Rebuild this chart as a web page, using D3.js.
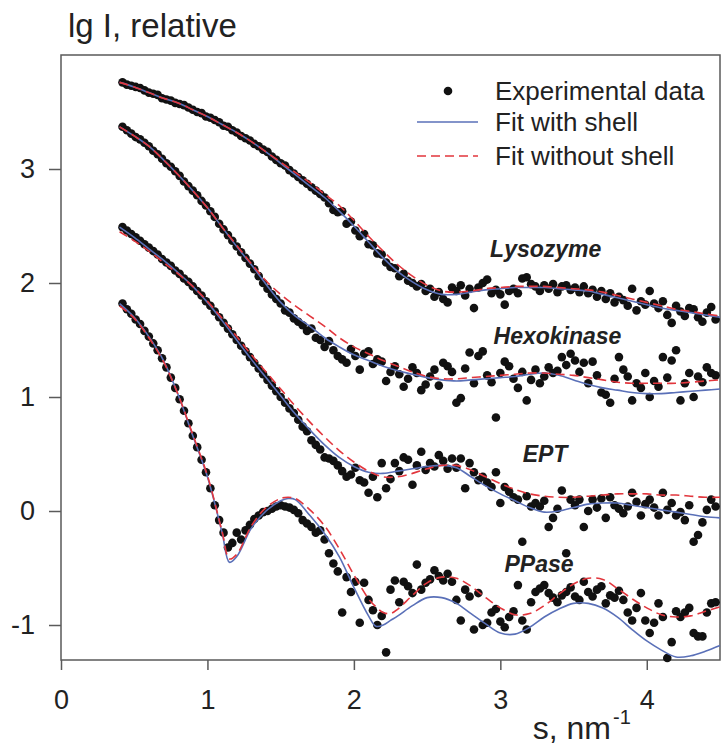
<!DOCTYPE html>
<html><head><meta charset="utf-8">
<script src="https://cdn.jsdelivr.net/npm/d3@7"></script>
<style>body{margin:0;background:#fff}svg{display:block}</style>
</head><body>
<svg id="chart" width="722" height="746"></svg>
<script>
// scattering vector s (nm^-1) of the experimental points
const sGrid = [
0.42,0.45,0.48,0.51,0.54,0.57,0.60,0.63,0.66,0.69,
0.72,0.75,0.78,0.81,0.84,0.87,0.90,0.93,0.96,0.99,
1.02,1.05,1.08,1.11,1.14,1.17,1.20,1.23,1.26,1.29,
1.32,1.35,1.38,1.41,1.44,1.47,1.50,1.53,1.56,1.59,
1.62,1.65,1.68,1.71,1.74,1.77,1.80,1.83,1.86,1.89,
1.92,1.95,1.98,2.01,2.04,2.07,2.10,2.13,2.16,2.19,
2.22,2.25,2.28,2.31,2.34,2.37,2.40,2.43,2.46,2.49,
2.52,2.55,2.58,2.61,2.64,2.67,2.70,2.73,2.76,2.79,
2.82,2.85,2.88,2.91,2.94,2.97,3.00,3.03,3.06,3.09,
3.12,3.15,3.18,3.21,3.24,3.27,3.30,3.33,3.36,3.39,
3.42,3.45,3.48,3.51,3.54,3.57,3.60,3.63,3.66,3.69,
3.72,3.75,3.78,3.81,3.84,3.87,3.90,3.93,3.96,3.99,
4.02,4.05,4.08,4.11,4.14,4.17,4.20,4.23,4.26,4.29,
4.32,4.35,4.38,4.41,4.44,4.47];

const lysozymeData = [
3.76,3.74,3.73,3.72,3.71,3.69,3.67,3.66,3.65,3.62,
3.61,3.60,3.58,3.57,3.56,3.54,3.52,3.50,3.49,3.46,
3.45,3.43,3.41,3.38,3.37,3.34,3.32,3.29,3.27,3.25,
3.22,3.20,3.17,3.15,3.11,3.08,3.05,3.03,2.99,2.96,
2.93,2.90,2.87,2.84,2.81,2.78,2.75,2.70,2.64,2.62,
2.63,2.52,2.54,2.46,2.41,2.43,2.34,2.33,2.26,2.25,
2.18,2.14,2.13,2.06,2.08,2.02,2.00,1.97,1.99,1.93,
1.95,1.88,1.92,1.86,1.83,1.96,1.93,1.98,1.89,1.95,
1.78,1.96,2.00,2.03,1.91,1.94,1.90,1.81,1.93,1.95,
1.91,2.04,2.05,1.99,1.97,1.93,1.98,1.95,1.99,1.92,
1.97,1.98,1.94,1.96,1.92,1.97,1.91,1.94,1.88,1.93,
1.86,1.91,1.83,1.88,1.85,1.80,1.95,1.76,1.84,1.81,
1.93,1.82,1.78,1.84,1.72,1.65,1.80,1.75,1.71,1.78,
1.77,1.70,1.66,1.74,1.79,1.68];

const hexokinaseData = [
3.37,3.34,3.31,3.28,3.26,3.23,3.20,3.16,3.13,3.09,
3.05,3.02,2.98,2.94,2.89,2.85,2.81,2.77,2.72,2.68,
2.63,2.58,2.52,2.47,2.42,2.37,2.32,2.27,2.22,2.17,
2.12,2.06,2.00,1.95,1.90,1.86,1.82,1.76,1.74,1.69,
1.66,1.63,1.58,1.60,1.52,1.50,1.44,1.49,1.41,1.36,
1.33,1.30,1.42,1.36,1.24,1.38,1.40,1.29,1.33,1.31,
1.14,1.22,1.27,1.20,1.09,1.16,1.26,1.21,1.06,1.11,
1.18,1.24,1.10,1.30,1.27,1.22,0.95,0.99,1.25,1.39,
1.12,1.36,1.40,1.19,1.13,0.82,1.21,1.31,1.27,1.16,
1.08,1.22,0.97,1.15,1.24,1.12,1.18,1.26,1.21,1.23,
1.35,1.28,1.38,1.32,1.22,1.30,1.12,1.31,1.19,1.04,
1.02,0.95,1.16,1.35,1.24,1.18,0.97,1.12,1.08,1.21,
1.00,1.14,1.09,1.35,1.17,1.32,1.41,0.97,1.12,1.21,
1.00,1.18,1.13,1.26,1.21,1.19];

const eptData = [
2.49,2.46,2.43,2.40,2.37,2.34,2.31,2.28,2.25,2.21,
2.18,2.15,2.11,2.08,2.04,2.01,1.97,1.93,1.89,1.84,
1.80,1.75,1.70,1.65,1.60,1.55,1.50,1.45,1.40,1.35,
1.30,1.25,1.20,1.15,1.10,1.05,1.00,0.95,0.90,0.86,
0.80,0.74,0.70,0.62,0.58,0.54,0.47,0.46,0.44,0.40,
0.35,0.30,0.32,0.38,0.27,0.25,0.16,0.30,0.12,0.42,
0.20,0.28,0.42,0.35,0.47,0.45,0.23,0.40,0.52,0.36,
0.42,0.39,0.49,0.44,0.37,0.46,0.38,0.46,0.20,0.42,
0.34,0.27,0.30,0.25,0.21,0.34,0.07,0.21,0.17,0.12,
0.10,-0.27,0.13,0.04,0.07,0.04,0.09,-0.14,-0.06,0.02,
0.18,-0.37,0.10,0.05,0.10,-0.14,0.00,0.10,0.03,0.11,
-0.06,0.12,0.05,0.02,-0.02,0.04,0.16,0.08,-0.04,0.06,
0.10,0.03,-0.04,0.16,0.01,0.07,-0.04,-0.01,-0.08,0.05,
-0.27,-0.21,-0.10,0.01,0.10,0.04];

const ppaseData = [
1.82,1.77,1.73,1.68,1.64,1.58,1.53,1.47,1.41,1.34,
1.26,1.17,1.08,0.98,0.88,0.77,0.66,0.56,0.45,0.34,
0.20,0.05,-0.08,-0.19,-0.32,-0.28,-0.19,-0.25,-0.17,-0.12,
-0.07,-0.04,-0.01,0.00,0.02,0.04,0.05,0.04,0.03,0.01,
-0.02,-0.08,-0.11,-0.14,-0.19,-0.17,-0.25,-0.37,-0.46,-0.53,
-0.89,-0.58,-0.71,-0.62,-0.98,-0.63,-0.78,-0.87,-1.00,-0.92,
-1.24,-0.69,-0.61,-0.80,-0.62,-0.66,-0.72,-0.47,-0.69,-0.63,
-0.60,-0.52,-0.57,-0.61,-0.55,-0.62,-0.78,-0.96,-0.69,-0.75,
-1.04,-0.72,-1.00,-0.98,-0.89,-0.86,-0.97,-1.02,-0.93,-0.88,
-0.65,-0.96,-1.04,-0.80,-0.71,-0.68,-0.65,-0.72,-0.76,-0.80,
-0.74,-0.71,-0.67,-0.75,-0.78,-0.62,-0.71,-0.75,-0.69,-0.66,
-0.81,-0.74,-0.76,-0.70,-0.78,-0.89,-0.96,-0.85,-0.72,-0.96,
-1.07,-0.98,-0.81,-0.93,-1.29,-1.15,-0.88,-0.93,-0.89,-0.85,
-1.07,-1.10,-1.10,-0.89,-0.81,-0.80];

// model curves
const fitS = [0.4,0.5,0.6,0.7,0.8,0.9,1.0,1.1,1.2,1.3,1.4,1.5,1.6,1.7,1.8,1.9,2.0,
  2.1,2.2,2.3,2.4,2.5,2.6,2.7,2.8,2.9,3.0,3.1,3.2,3.3,3.4,3.5,3.6,3.7,3.8,3.9,4.0,
  4.1,4.2,4.3,4.4,4.5];
const lysozymeShell = [3.76,3.72,3.67,3.62,3.58,3.52,3.46,
  3.39,3.32,3.24,3.15,3.05,2.95,2.85,2.75,2.63,2.50,
  2.36,2.22,2.10,2.01,1.94,1.90,1.90,1.92,1.94,1.95,
  1.96,1.96,1.96,1.95,1.94,1.93,1.90,1.87,1.84,1.81,
  1.78,1.76,1.74,1.72,1.70];
const lysozymeNoShell = [3.76,3.72,3.67,3.62,3.58,3.52,3.46,
  3.39,3.32,3.24,3.15,3.06,2.97,2.88,2.78,2.68,2.55,
  2.41,2.28,2.16,2.06,1.98,1.93,1.92,1.93,1.95,1.96,
  1.97,1.97,1.97,1.96,1.95,1.94,1.92,1.89,1.86,1.83,
  1.80,1.77,1.75,1.73,1.71];
const hexokinaseShell = [3.37,3.29,3.20,3.08,2.95,2.81,2.66,
  2.49,2.32,2.16,1.99,1.83,1.71,1.62,1.52,1.44,1.37,
  1.32,1.27,1.23,1.20,1.17,1.15,1.14,1.15,1.16,1.17,
  1.18,1.20,1.21,1.19,1.15,1.11,1.08,1.06,1.04,1.03,
  1.03,1.04,1.05,1.06,1.07];
const hexokinaseNoShell = [3.37,3.29,3.20,3.08,2.95,2.81,2.66,
  2.49,2.33,2.17,2.02,1.90,1.80,1.71,1.62,1.52,1.44,
  1.38,1.32,1.27,1.22,1.18,1.16,1.16,1.17,1.18,1.19,
  1.20,1.21,1.21,1.20,1.19,1.17,1.15,1.13,1.12,1.12,
  1.12,1.12,1.13,1.14,1.15];
const eptShell = [2.49,2.40,2.30,2.20,2.09,1.97,1.83,
  1.67,1.50,1.33,1.17,1.01,0.85,0.71,0.58,0.47,0.39,
  0.34,0.33,0.35,0.37,0.39,0.40,0.38,0.30,0.22,0.15,
  0.09,0.03,-0.01,0.00,0.03,0.06,0.07,0.07,0.05,0.03,
  0.01,-0.01,-0.03,-0.05,-0.06];
const eptNoShell = [2.45,2.37,2.28,2.18,2.08,1.97,1.84,
  1.69,1.53,1.37,1.22,1.07,0.92,0.78,0.65,0.53,0.43,
  0.35,0.30,0.30,0.33,0.37,0.40,0.40,0.36,0.30,0.24,
  0.19,0.15,0.13,0.12,0.12,0.13,0.14,0.15,0.15,0.15,
  0.14,0.14,0.13,0.12,0.12];
const ppaseFitS = [0.4,0.5,0.6,0.7,0.8,0.9,1.0,1.1,1.15,1.2,1.3,1.4,1.5,1.55,1.6,1.7,1.8,1.9,
  2.0,2.1,2.15,2.2,2.25,2.3,2.4,2.5,2.6,2.7,2.8,2.9,3.0,3.1,3.2,3.3,3.4,3.5,3.6,3.7,3.8,3.9,
  4.0,4.1,4.2,4.3,4.4,4.5];
const ppaseShell = [1.82,1.70,1.53,1.32,1.02,0.66,0.30,-0.19,-0.45,-0.40,-0.15,0.00,0.09,0.11,0.10,-0.04,-0.20,-0.40,
  -0.67,-0.92,-1.01,-1.00,-0.96,-0.92,-0.83,-0.76,-0.76,-0.81,-0.90,-0.99,-1.07,-1.08,-1.02,-0.93,-0.86,-0.81,-0.81,-0.85,-0.93,-1.04,
  -1.14,-1.22,-1.28,-1.27,-1.23,-1.18];
const ppaseNoShell = [1.80,1.69,1.52,1.31,1.02,0.67,0.31,-0.18,-0.42,-0.38,-0.13,0.03,0.11,0.12,0.11,0.01,-0.13,-0.33,
  -0.56,-0.77,-0.84,-0.89,-0.90,-0.86,-0.74,-0.63,-0.58,-0.59,-0.66,-0.76,-0.85,-0.91,-0.90,-0.83,-0.73,-0.64,-0.59,-0.60,-0.68,-0.77,
  -0.85,-0.91,-0.93,-0.92,-0.88,-0.84];

const sampleNames = ["Lysozyme","Hexokinase","EPT","PPase"];
const xTicks = [0,1,2,3,4];
const yTicks = [-1,0,1,2,3];
const legendLabels = ["Experimental data","Fit with shell","Fit without shell"];

// ---- drawing ----
const svg = d3.select("#chart");
const x = d3.scaleLinear().domain([0,4.5]).range([61,720]);
const y = d3.scaleLinear().domain([-1.307,4.0]).range([660,55]);
const FONT = "'Liberation Sans', Arial, Helvetica, sans-serif";
const blue = "#5a70b8", red = "#e2363d", axisCol = "#5a5a5a";

const series = [
  {data: lysozymeData, fs: fitS, shell: lysozymeShell, noShell: lysozymeNoShell},
  {data: hexokinaseData, fs: fitS, shell: hexokinaseShell, noShell: hexokinaseNoShell},
  {data: eptData, fs: fitS, shell: eptShell, noShell: eptNoShell},
  {data: ppaseData, fs: ppaseFitS, shell: ppaseShell, noShell: ppaseNoShell}
];
const labelAt = [[3.31,2.228],[3.39,1.465],[3.305,0.43],[3.264,-0.535]];

// frame
svg.append("rect").attr("x",x(0)).attr("y",y(4.0)).attr("width",x(4.5)-x(0)).attr("height",y(-1.307)-y(4.0))
  .attr("fill","none").attr("stroke",axisCol).attr("stroke-width",1.5);

// axes
const fmt = d => String(d);
const gx = svg.append("g").attr("transform",`translate(0,${y(-1.307)})`)
  .call(d3.axisBottom(x).tickValues(xTicks).tickFormat(fmt).tickSize(10).tickPadding(20));
const gy = svg.append("g").attr("transform",`translate(${x(0)},0)`)
  .call(d3.axisLeft(y).tickValues(yTicks).tickFormat(fmt).tickSize(12).tickPadding(14));
[gx,gy].forEach(g=>{
  g.select(".domain").remove();
  g.selectAll(".tick line").attr("stroke",axisCol).attr("stroke-width",1.5);
  g.selectAll(".tick text").attr("font-family",FONT).attr("font-size",27).attr("fill","#222");
});

// points
series.forEach(sr=>{
  svg.append("g").selectAll("circle").data(sGrid.map((s,i)=>[s,sr.data[i]])).join("circle")
    .attr("cx",d=>x(d[0])).attr("cy",d=>y(d[1])).attr("r",4.3).attr("fill","#111");
});
// fits
const line = d3.line().x(d=>x(d[0])).y(d=>y(d[1])).curve(d3.curveCatmullRom.alpha(0.5));
series.forEach(sr=>{
  svg.append("path").attr("d",line(sr.fs.map((s,i)=>[s,sr.shell[i]])))
    .attr("fill","none").attr("stroke",blue).attr("stroke-width",1.6);
  svg.append("path").attr("d",line(sr.fs.map((s,i)=>[s,sr.noShell[i]])))
    .attr("fill","none").attr("stroke",red).attr("stroke-width",1.6).attr("stroke-dasharray","9,5");
});

// curve labels
sampleNames.forEach((n,i)=>{
  svg.append("text").attr("x",x(labelAt[i][0])).attr("y",y(labelAt[i][1]))
    .attr("text-anchor","middle").attr("font-family",FONT).attr("font-size",23)
    .attr("font-weight","bold").attr("font-style","italic").attr("fill","#222").text(n);
});

// legend
const lg = svg.append("g");
lg.append("circle").attr("cx",448).attr("cy",91).attr("r",4.3).attr("fill","#111");
lg.append("line").attr("x1",417).attr("x2",478).attr("y1",122).attr("y2",122).attr("stroke",blue).attr("stroke-width",1.6);
lg.append("line").attr("x1",417).attr("x2",478).attr("y1",156).attr("y2",156).attr("stroke",red).attr("stroke-width",1.6).attr("stroke-dasharray","9,5");
legendLabels.forEach((t,i)=>{
  lg.append("text").attr("x",495).attr("y",[100,131,165][i]).attr("font-family",FONT)
    .attr("font-size",26).attr("fill","#222").text(t);
});

// titles
svg.append("text").attr("x",68).attr("y",37).attr("font-family",FONT).attr("font-size",33).attr("fill","#222").text("lg I, relative");
svg.append("text").attr("x",611).attr("y",739).attr("text-anchor","end").attr("font-family",FONT).attr("font-size",32).attr("fill","#222").text("s, nm");
svg.append("text").attr("x",613).attr("y",724).attr("font-family",FONT).attr("font-size",20).attr("fill","#222").text("-1");
</script>
</body></html>
